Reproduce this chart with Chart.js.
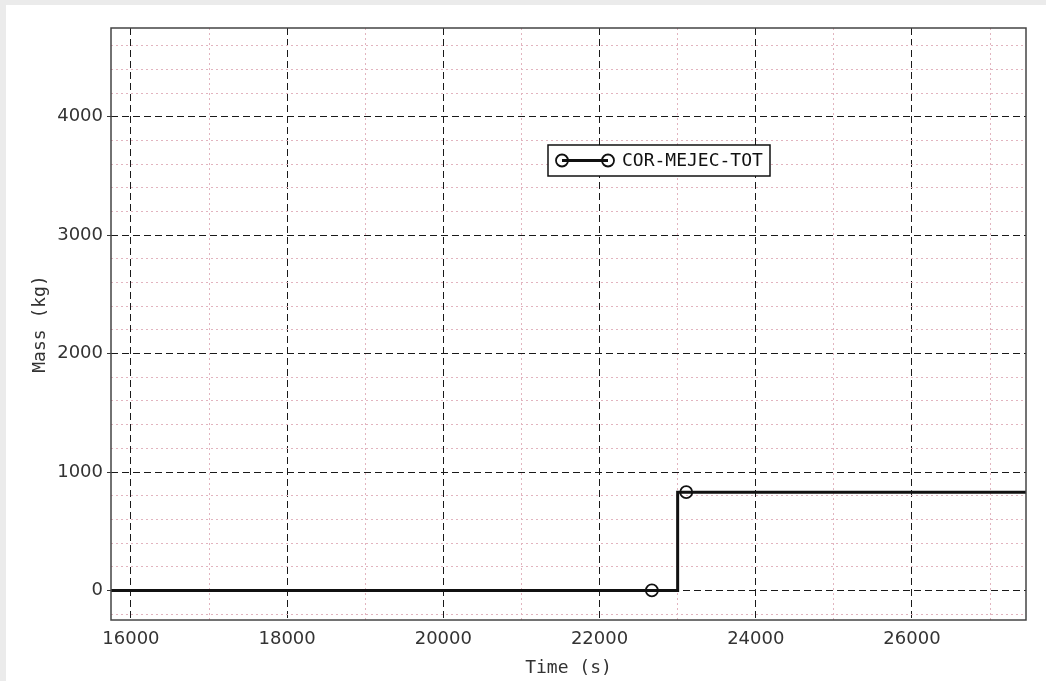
<!DOCTYPE html>
<html><head><meta charset="utf-8">
<script src="https://cdn.jsdelivr.net/npm/chart.js@4/dist/chart.umd.min.js"></script>
<style>
html,body{margin:0;padding:0;background:#ebebeb;width:1046px;height:681px;overflow:hidden;}
#wrap{position:absolute;left:6px;top:5px;width:1040px;height:676px;background:#fff;}
canvas{display:block;}
</style></head><body>
<div id="wrap"><canvas id="c" width="1040" height="676"></canvas></div>
<script>
const seriesName = 'COR-MEJEC-TOT';
const timeS  = [15745, 22670, 23000, 23000, 23110, 27460];
const massKg = [0, 0, 0, 830, 830, 830];
const markerIdx = [1, 4];
const xMajorTicks = [16000, 18000, 20000, 22000, 24000, 26000];
const xMinorTicks = [17000, 19000, 21000, 23000, 25000, 27000];
const yMajorTicks = [0, 1000, 2000, 3000, 4000];
const yMinorTicks = [-200, 200, 400, 600, 800, 1200, 1400, 1600, 1800, 2200, 2400, 2600, 2800, 3200, 3400, 3600, 3800, 4200, 4400, 4600];
const xRange = [15745, 27460];
const yRange = [-250, 4750];
const xTitle = 'Time (s)';
const yTitle = 'Mass (kg)';

const tickFont = {family: 'DejaVu Sans', size: 18};
const monoFont = {family: 'DejaVu Sans Mono', size: 18};
const MAJOR = '#1a1a1a';
const MINOR = '#e2b4bf';

const framePlugin = {
  id: 'frameAndLegend',
  afterDraw(chart) {
    const {ctx, chartArea: a} = chart;
    ctx.save();
    ctx.strokeStyle = '#444';
    ctx.lineWidth = 1.5;
    ctx.strokeRect(a.left, a.top, a.right - a.left, a.bottom - a.top);
    // legend box
    const ds = chart.data.datasets[0];
    const bx = a.left + 437, by = a.top + 117, bw = 222, bh = 31;
    ctx.fillStyle = '#fff';
    ctx.fillRect(bx, by, bw, bh);
    ctx.strokeStyle = '#111';
    ctx.lineWidth = 1.5;
    ctx.strokeRect(bx, by, bw, bh);
    const cy = by + bh / 2, x1 = bx + 14, x2 = bx + 60;
    ctx.strokeStyle = ds.borderColor;
    ctx.lineWidth = ds.borderWidth;
    ctx.beginPath(); ctx.moveTo(x1, cy); ctx.lineTo(x2, cy); ctx.stroke();
    ctx.lineWidth = ds.pointBorderWidth;
    [x1, x2].forEach(x => { ctx.beginPath(); ctx.arc(x, cy, 6, 0, Math.PI * 2); ctx.stroke(); });
    ctx.fillStyle = '#111';
    ctx.font = monoFont.size + 'px "' + monoFont.family + '"';
    ctx.textBaseline = 'middle';
    ctx.textAlign = 'left';
    ctx.fillText(ds.label, x2 + 14, cy + 1);
    ctx.restore();
  }
};

new Chart(document.getElementById('c'), {
  type: 'line',
  data: {
    datasets: [{
      label: seriesName,
      data: timeS.map((t, i) => ({x: t, y: massKg[i]})),
      borderColor: '#111',
      borderWidth: 3,
      tension: 0,
      pointRadius: ctx => markerIdx.includes(ctx.dataIndex) ? 6 : 0,
      pointHoverRadius: ctx => markerIdx.includes(ctx.dataIndex) ? 6 : 0,
      pointBorderWidth: 1.8,
      pointBorderColor: '#111',
      pointBackgroundColor: 'rgba(0,0,0,0)',
      xAxisID: 'x',
      yAxisID: 'y'
    }]
  },
  options: {
    responsive: false,
    animation: false,
    devicePixelRatio: 1,
    layout: {padding: {left: 0, top: 23, right: 20, bottom: 0}},
    plugins: {legend: {display: false}, tooltip: {enabled: false}},
    scales: {
      x: {
        type: 'linear', position: 'bottom', min: xRange[0], max: xRange[1],
        afterBuildTicks: s => { s.ticks = xMajorTicks.map(v => ({value: v})); },
        afterFit: s => { s.height = 61; },
        ticks: {font: tickFont, color: '#333', padding: 9, maxRotation: 0, autoSkip: false,
                callback: v => String(v)},
        grid: {color: MAJOR, lineWidth: 1, drawTicks: false},
        border: {display: false, dash: [7, 4]},
        title: {display: true, text: xTitle, font: monoFont, color: '#333', padding: {top: 0, bottom: 2}}
      },
      xMinor: {
        type: 'linear', position: 'bottom', min: xRange[0], max: xRange[1],
        afterBuildTicks: s => { s.ticks = xMinorTicks.map(v => ({value: v})); },
        afterFit: s => { s.height = 0; },
        ticks: {display: false},
        grid: {color: MINOR, lineWidth: 1, drawTicks: false, z: -1},
        border: {display: false, dash: [2, 3]}
      },
      y: {
        type: 'linear', position: 'left', min: yRange[0], max: yRange[1],
        afterBuildTicks: s => { s.ticks = yMajorTicks.map(v => ({value: v})); },
        afterFit: s => { s.width = 105; },
        ticks: {font: tickFont, color: '#333', padding: 4, callback: v => String(v)},
        grid: {color: MAJOR, lineWidth: 1, drawTicks: true, tickLength: 4, tickColor: '#333', tickBorderDash: []},
        border: {display: false, dash: [7, 4]},
        title: {display: true, text: yTitle, font: monoFont, color: '#333', padding: {top: 24, bottom: 0}}
      },
      yMinor: {
        type: 'linear', position: 'left', min: yRange[0], max: yRange[1],
        afterBuildTicks: s => { s.ticks = yMinorTicks.map(v => ({value: v})); },
        afterFit: s => { s.width = 0; },
        ticks: {display: false},
        grid: {color: MINOR, lineWidth: 1, drawTicks: false, z: -1},
        border: {display: false, dash: [2, 3]}
      }
    }
  },
  plugins: [framePlugin]
});
</script>
</body></html>
